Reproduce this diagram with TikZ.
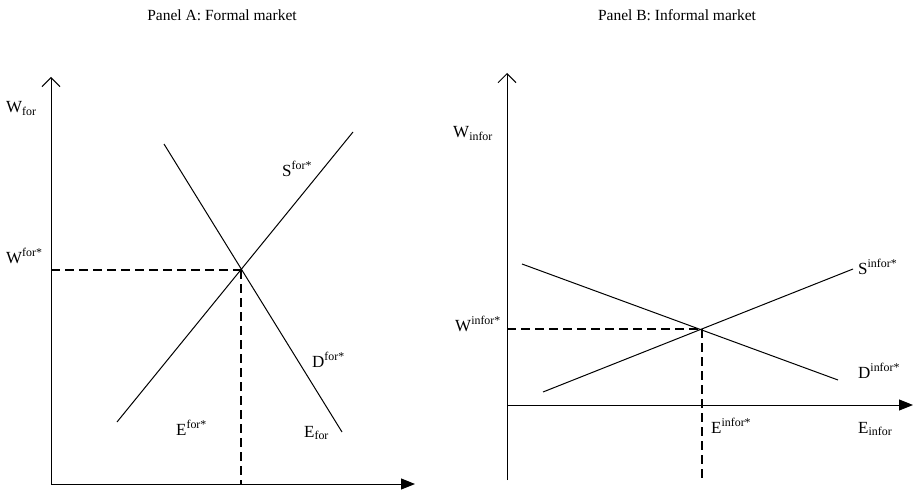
\documentclass[tikz,border=0pt]{standalone}
\usepackage{fontspec}
\setmainfont{Liberation Serif}
\usetikzlibrary{arrows.meta}

\begin{document}
\begin{tikzpicture}[x=1pt,y=-1pt,
  lbl/.style={anchor=base west, inner sep=0pt, font=\fontsize{17}{20}\selectfont},
  title/.style={inner sep=0pt, font=\fontsize{15.5}{18}\selectfont},
  yaxis/.style={line width=1pt, -{Straight Barb[length=9pt,width=18pt]}},
  xaxis/.style={line width=1pt, -{Triangle[length=14pt,width=11pt]}},
  curve/.style={line width=1pt},
  guide/.style={line width=1.6pt, dash pattern=on 9pt off 5pt}]
\useasboundingbox (0,0) rectangle (913,492);

% titles
\node[title] (titleA) at (222,15) {Panel A: Formal market};
\node[title] (titleB) at (677,15) {Panel B: Informal market};

% Panel A: formal market
\coordinate (oA) at (51,484);
\coordinate (topA) at (51,77);
\coordinate (endA) at (415,484);
\coordinate (sA1) at (117,422);
\coordinate (sA2) at (353,132);
\coordinate (dA1) at (164,144);
\coordinate (dA2) at (342,432);
\coordinate (eqA) at (241,270);
\coordinate (wA) at (51,270);
\coordinate (eA) at (241,484);
\draw[yaxis] (oA) -- (topA);
\draw[xaxis] (oA) -- (endA);
\draw[curve] (sA1) -- (sA2);
\draw[curve] (dA1) -- (dA2);
\draw[guide] (wA) -- (eqA);
\draw[guide] (eqA) -- (eA);
\node[lbl] (wforA) at (6,113) {W\textsubscript{for}};
\node[lbl] (wstarA) at (6,263) {W\textsuperscript{for*}};
\node[lbl] (sstarA) at (282,176) {S\textsuperscript{for*}};
\node[lbl] (dstarA) at (312,367) {D\textsuperscript{for*}};
\node[lbl] (estarA) at (176,435) {E\textsuperscript{for*}};
\node[lbl] (eforA) at (304,437) {E\textsubscript{for}};

% Panel B: informal market
\coordinate (botB) at (507,480);
\coordinate (topB) at (507,73);
\coordinate (oB) at (507,405);
\coordinate (endB) at (913,405);
\coordinate (sB1) at (543,392);
\coordinate (sB2) at (853,269);
\coordinate (dB1) at (522,264);
\coordinate (dB2) at (838,380);
\coordinate (eqB) at (702,329);
\coordinate (wB) at (507,329);
\coordinate (eB) at (702,480);
\draw[yaxis] (botB) -- (topB);
\draw[xaxis] (oB) -- (endB);
\draw[curve] (sB1) -- (sB2);
\draw[curve] (dB1) -- (dB2);
\draw[guide] (wB) -- (eqB);
\draw[guide] (eqB) -- (eB);
\node[lbl] (winforB) at (453,138) {W\textsubscript{infor}};
\node[lbl] (wstarB) at (455,331) {W\textsuperscript{infor*}};
\node[lbl] (sstarB) at (858,274) {S\textsuperscript{infor*}};
\node[lbl] (dstarB) at (858,378) {D\textsuperscript{infor*}};
\node[lbl] (estarB) at (711,433) {E\textsuperscript{infor*}};
\node[lbl] (einforB) at (858,433) {E\textsubscript{infor}};
\end{tikzpicture}
\end{document}
